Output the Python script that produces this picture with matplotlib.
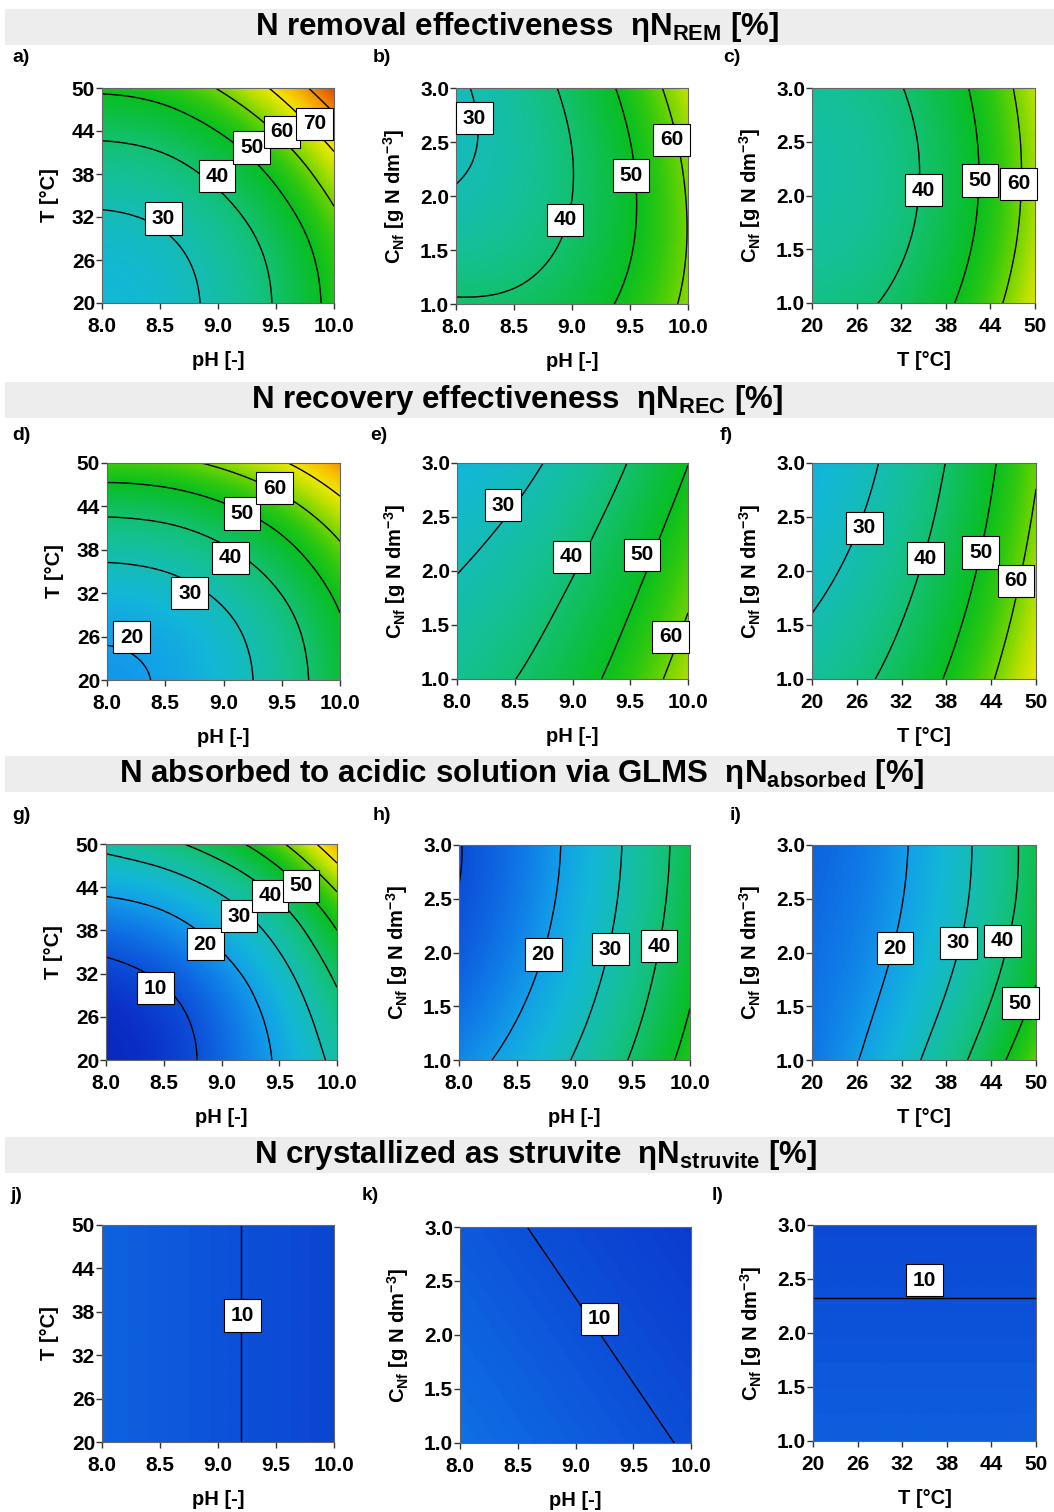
import numpy as np
import matplotlib
matplotlib.use('Agg')
import matplotlib.pyplot as plt
import matplotlib.tri as mtri
from matplotlib.colors import LinearSegmentedColormap, Normalize
from matplotlib.patches import Rectangle

plt.rcParams['font.family'] = ['Liberation Sans', 'DejaVu Sans']
plt.rcParams['font.weight'] = 'bold'
plt.rcParams['mathtext.fontset'] = 'custom'
plt.rcParams['mathtext.rm'] = 'Liberation Sans:bold'
plt.rcParams['mathtext.it'] = 'Liberation Sans:bold:italic'
plt.rcParams['mathtext.bf'] = 'Liberation Sans:bold'
plt.rcParams['mathtext.default'] = 'rm'

# ---------------- data ----------------
ph_ticks = [8.0, 8.5, 9.0, 9.5, 10.0]
t_ticks = [20, 26, 32, 38, 44, 50]
c_ticks = [1.0, 1.5, 2.0, 2.5, 3.0]

# N removal effectiveness (rows follow the y variable, columns the x variable)
rem_ph_t = [[25.00, 26.75, 32.00, 40.75, 53.00],
            [26.06, 27.83, 33.14, 41.99, 54.38],
            [29.22, 31.05, 36.54, 45.69, 58.50],
            [34.50, 36.43, 42.22, 51.87, 65.38],
            [41.90, 43.97, 50.18, 60.53, 75.02],
            [51.40, 53.65, 60.40, 71.65, 87.40]]
rem_ph_c = [[40.93, 41.62, 45.42, 52.14, 61.92],
            [34.69, 36.70, 41.71, 49.55, 60.34],
            [30.61, 33.83, 39.96, 48.81, 60.52],
            [28.67, 33.01, 40.15, 49.92, 62.44],
            [28.89, 34.24, 42.30, 52.88, 66.12]]
rem_t_c = [[37.11, 38.51, 42.31, 48.51, 57.11, 68.11],
           [34.07, 35.47, 39.27, 45.47, 54.07, 65.07],
           [32.63, 34.03, 37.83, 44.03, 52.63, 63.63],
           [32.79, 34.19, 37.99, 44.19, 52.79, 63.79],
           [34.55, 35.95, 39.75, 45.95, 54.55, 65.55]]

# N recovery effectiveness
rec_ph_t = [[19.00, 20.75, 26.00, 34.75, 47.00],
            [20.49, 22.23, 27.44, 36.12, 48.28],
            [24.96, 26.66, 31.75, 40.24, 52.11],
            [32.42, 34.05, 38.94, 47.09, 58.50],
            [42.86, 44.40, 49.01, 56.69, 67.45],
            [56.28, 57.70, 61.95, 69.03, 78.96]]
rec_ph_c = [[35.60, 39.90, 46.15, 54.35, 64.50],
            [32.70, 36.80, 42.86, 50.86, 60.82],
            [29.82, 33.73, 39.59, 47.39, 57.15],
            [26.95, 30.66, 36.32, 43.93, 53.49],
            [24.10, 27.62, 33.01, 40.49, 49.86]]
rec_t_c = [[34.00, 37.94, 43.48, 50.60, 59.30, 69.60],
           [30.65, 34.59, 40.13, 47.25, 55.95, 66.25],
           [27.80, 31.74, 37.28, 44.40, 53.10, 63.40],
           [25.45, 29.39, 34.93, 42.05, 50.75, 61.05],
           [23.60, 27.54, 33.08, 40.20, 48.90, 59.20]]

# N absorbed via GLMS
abs_ph_t = [[3.0, 6.5, 13.0, 21.2, 32.5],
            [4.3, 7.7, 14.0, 23.0, 36.5],
            [8.0, 11.2, 17.3, 27.0, 42.0],
            [13.8, 16.8, 23.0, 33.5, 50.0],
            [22.0, 25.0, 32.0, 43.8, 61.5],
            [32.5, 37.5, 45.6, 58.3, 77.4]]
abs_ph_c = [[17.00, 22.64, 30.60, 40.89, 53.50],
            [13.81, 19.24, 27.06, 37.27, 49.89],
            [11.55, 16.77, 24.45, 34.59, 47.20],
            [10.21, 15.22, 22.76, 32.83, 45.44],
            [9.80, 14.60, 22.00, 32.00, 44.60]]
abs_t_c = [[15.00, 19.74, 26.48, 35.22, 45.96, 58.70],
           [14.38, 17.92, 23.46, 31.00, 40.54, 52.08],
           [13.75, 16.49, 21.23, 27.97, 36.71, 47.45],
           [13.13, 15.47, 19.81, 26.15, 34.49, 44.83],
           [12.50, 14.84, 19.18, 25.52, 33.86, 44.20]]

# N crystallized as struvite
str_ph_t = [[12.4, 11.4, 10.4, 9.4, 8.4]] * 6
str_ph_c = [[14.08, 12.98, 11.88, 10.78, 9.68],
            [13.38, 12.28, 11.18, 10.08, 8.98],
            [12.68, 11.58, 10.48, 9.38, 8.28],
            [11.98, 10.88, 9.78, 8.68, 7.58],
            [11.28, 10.18, 9.08, 7.98, 6.88]]
str_t_c = [[11.98] * 6, [11.23] * 6, [10.48] * 6, [9.73] * 6, [8.98] * 6]

# contour label positions (x, y, value)
lab_a = [(8.53, 31.8, 30), (8.99, 37.7, 40), (9.29, 41.7, 50), (9.55, 43.9, 60), (9.83, 45.0, 70)]
lab_b = [(8.16, 2.72, 30), (8.94, 1.78, 40), (9.51, 2.19, 50), (9.86, 2.52, 60)]
lab_c = [(35.0, 2.05, 40), (42.6, 2.14, 50), (47.8, 2.11, 60)]
lab_d = [(8.21, 25.9, 20), (8.71, 32.0, 30), (9.06, 36.9, 40), (9.16, 43.0, 50), (9.44, 46.5, 60)]
lab_e = [(8.40, 2.61, 30), (8.99, 2.13, 40), (9.60, 2.15, 50), (9.85, 1.39, 60)]
lab_f = [(27.0, 2.40, 30), (35.2, 2.12, 40), (42.6, 2.17, 50), (47.3, 1.91, 60)]
lab_g = [(8.43, 30.0, 10), (8.86, 36.1, 20), (9.15, 40.0, 30), (9.42, 42.8, 40), (9.69, 44.2, 50)]
lab_h = [(8.73, 1.98, 20), (9.31, 2.03, 30), (9.73, 2.06, 40)]
lab_i = [(31.1, 2.04, 20), (39.6, 2.09, 30), (45.5, 2.11, 40), (47.9, 1.53, 50)]
lab_j = [(9.21, 37.5, 10)]
lab_k = [(9.21, 2.15, 10)]
lab_l = [(35.0, 2.49, 10)]

section_titles = ["N removal effectiveness  \u03b7N$_{\\mathrm{REM}}$ [%]",
                  "N recovery effectiveness  \u03b7N$_{\\mathrm{REC}}$ [%]",
                  "N absorbed to acidic solution via GLMS  \u03b7N$_{\\mathrm{absorbed}}$ [%]",
                  "N crystallized as struvite  \u03b7N$_{\\mathrm{struvite}}$ [%]"]

# ---------------- style ----------------
W, H = 1054, 1512
fig = plt.figure(figsize=(W / 100, H / 100), dpi=100)

stops = [(0, '#061cae'), (5, '#0a30c8'), (10, '#0c50d8'), (15, '#0f78e6'),
         (20, '#12a0e8'), (25, '#12b8d6'), (30, '#14bcb4'), (35, '#14c094'),
         (40, '#12c070'), (45, '#0ebe48'), (50, '#08bf20'), (55, '#30c810'),
         (60, '#70d400'), (65, '#b8e000'), (70, '#f0e800'), (75, '#f8c000'),
         (80, '#f09000'), (85, '#e86000'), (90, '#d83000')]
cmap = LinearSegmentedColormap.from_list('rsm', [(v / 90, c) for v, c in stops])
norm = Normalize(0, 90)


def px_axes(x0, y0, x1, y1):
    return fig.add_axes([x0 / W, 1 - y1 / H, (x1 - x0) / W, (y1 - y0) / H])


PH_LAB = 'pH [-]'
T_LAB = 'T [\u00b0C]'
C_LAB = 'C$_{\\mathrm{Nf}}$ [g N dm$^{\\mathrm{-3}}$]'

panels = [
    ('a)', (102, 88, 334, 303), ph_ticks, t_ticks, rem_ph_t, PH_LAB, T_LAB, lab_a),
    ('b)', (456, 88, 688, 304), ph_ticks, c_ticks, rem_ph_c, PH_LAB, C_LAB, lab_b),
    ('c)', (812, 88, 1035, 303), t_ticks, c_ticks, rem_t_c, T_LAB, C_LAB, lab_c),
    ('d)', (107, 463, 340, 680), ph_ticks, t_ticks, rec_ph_t, PH_LAB, T_LAB, lab_d),
    ('e)', (457, 463, 688, 679), ph_ticks, c_ticks, rec_ph_c, PH_LAB, C_LAB, lab_e),
    ('f)', (812, 463, 1036, 679), t_ticks, c_ticks, rec_t_c, T_LAB, C_LAB, lab_f),
    ('g)', (106, 844, 337, 1060), ph_ticks, t_ticks, abs_ph_t, PH_LAB, T_LAB, lab_g),
    ('h)', (459, 845, 690, 1060), ph_ticks, c_ticks, abs_ph_c, PH_LAB, C_LAB, lab_h),
    ('i)', (812, 845, 1036, 1060), t_ticks, c_ticks, abs_t_c, T_LAB, C_LAB, lab_i),
    ('j)', (102, 1225, 334, 1442), ph_ticks, t_ticks, str_ph_t, PH_LAB, T_LAB, lab_j),
    ('k)', (460, 1227, 691, 1443), ph_ticks, c_ticks, str_ph_c, PH_LAB, C_LAB, lab_k),
    ('l)', (813, 1225, 1036, 1441), t_ticks, c_ticks, str_t_c, T_LAB, C_LAB, lab_l),
]

letter_pos = {'a)': (12, 58), 'b)': (373, 58), 'c)': (723, 58),
              'd)': (12, 435), 'e)': (370, 435), 'f)': (720, 435),
              'g)': (12, 815), 'h)': (373, 815), 'i)': (730, 815),
              'j)': (10, 1195), 'k)': (362, 1195), 'l)': (712, 1195)}


def fmt_ticks(ticks):
    if all(float(t).is_integer() for t in ticks):
        return ['%d' % t for t in ticks]
    return ['%.1f' % t for t in ticks]


for idx, (letter, rect, xs, ys, z, xl, yl, labs) in enumerate(panels):
    ax = px_axes(*rect)
    xs_a = np.asarray(xs, float)
    ys_a = np.asarray(ys, float)
    Z = np.asarray(z, float)
    X, Y = np.meshgrid(xs_a, ys_a)
    xn = (X - xs_a[0]) / (xs_a[-1] - xs_a[0])
    yn = (Y - ys_a[0]) / (ys_a[-1] - ys_a[0])
    tri = mtri.Triangulation(xn.ravel(), yn.ravel())
    refiner = mtri.UniformTriRefiner(tri)
    tri_r, z_r = refiner.refine_field(Z.ravel(), subdiv=5)
    tri_d = mtri.Triangulation(xs_a[0] + tri_r.x * (xs_a[-1] - xs_a[0]),
                               ys_a[0] + tri_r.y * (ys_a[-1] - ys_a[0]),
                               tri_r.triangles)
    ax.tripcolor(tri_d, z_r, shading='gouraud', cmap=cmap, norm=norm, rasterized=True)
    levels = [10] if idx >= 9 else list(range(10, 100, 10))
    ax.tricontour(tri_d, z_r, levels=levels, colors='black', linewidths=1.0)
    for (lx, ly, lv) in labs:
        ax.text(lx, ly, str(lv), ha='center', va='center', fontsize=15, fontweight='bold',
                bbox=dict(boxstyle='square,pad=0.32', fc='white', ec='black', lw=0.8),
                zorder=6, clip_on=False)
    ax.set_xlim(xs_a[0], xs_a[-1])
    ax.set_ylim(ys_a[0], ys_a[-1])
    ax.set_xticks(xs)
    ax.set_xticklabels(fmt_ticks(xs))
    ax.set_yticks(ys)
    ax.set_yticklabels(fmt_ticks(ys))
    ax.tick_params(direction='out', length=4, width=1.0, labelsize=15, color='#333333')
    ax.tick_params(axis='x', pad=6)
    ax.tick_params(axis='y', pad=1)
    for lab in ax.get_xticklabels() + ax.get_yticklabels():
        lab.set_fontweight('bold')
    for sp in ax.spines.values():
        sp.set_color('#666666')
        sp.set_linewidth(0.8)
    ax.set_xlabel(xl, fontsize=14.5, fontweight='bold', labelpad=11)
    ax.set_ylabel(yl, fontsize=14.5, fontweight='bold', labelpad=9)
    lx, ly = letter_pos[letter]
    fig.text(lx / W, 1 - ly / H, letter, fontsize=14, fontweight='bold', ha='left', va='center')

bars = [(9, 45, 517), (382, 418, 517), (756, 792, 521), (1137, 1173, 536)]
for (y0, y1, xc), title in zip(bars, section_titles):
    fig.patches.append(Rectangle((5 / W, 1 - y1 / H), (W - 5) / W, (y1 - y0) / H,
                                 transform=fig.transFigure, facecolor='#ededed',
                                 edgecolor='none', zorder=0))
    fig.text(xc / W, 1 - (y0 + y1) / 2 / H, title, fontsize=22.5, fontweight='bold',
             ha='center', va='center')

fig.savefig('out.png', dpi=100)
